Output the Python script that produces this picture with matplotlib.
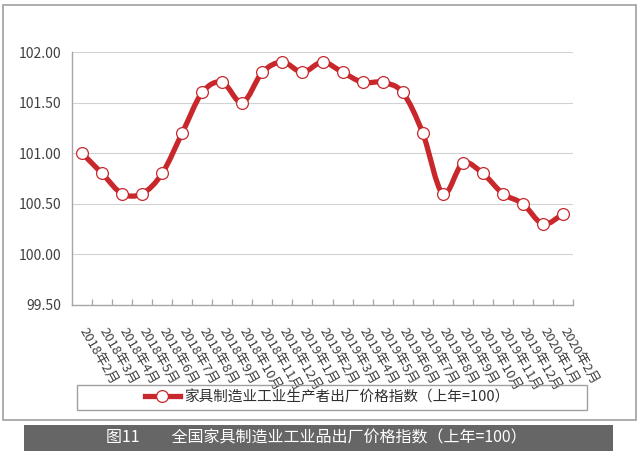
import matplotlib
matplotlib.use('Agg')
import matplotlib.pyplot as plt
from matplotlib.path import Path
from matplotlib.patches import PathPatch, Rectangle
from matplotlib.lines import Line2D
from matplotlib.ticker import FormatStrFormatter

plt.rcParams['font.family'] = ['Noto Sans CJK SC', 'DejaVu Sans']

# monthly labels, 2018-02 .. 2020-02
months = ['2018年2月', '2018年3月', '2018年4月', '2018年5月', '2018年6月',
          '2018年7月', '2018年8月', '2018年9月', '2018年10月', '2018年11月',
          '2018年12月', '2019年1月', '2019年2月', '2019年3月', '2019年4月',
          '2019年5月', '2019年6月', '2019年7月', '2019年8月', '2019年9月',
          '2019年10月', '2019年11月', '2019年12月', '2020年1月', '2020年2月']
index_vals = [101.0, 100.8, 100.6, 100.6, 100.8, 101.2, 101.6, 101.7, 101.5,
              101.8, 101.9, 101.8, 101.9, 101.8, 101.7, 101.7, 101.6, 101.2,
              100.6, 100.9, 100.8, 100.6, 100.5, 100.3, 100.4]
series_name = '家具制造业工业生产者出厂价格指数（上年=100）'
caption = '图11　　全国家具制造业工业品出厂价格指数（上年=100）'

RED = '#c8282c'
GRID = '#a6a6a6'
W, H = 640, 455

fig = plt.figure(figsize=(6.4, 4.55), dpi=100)
ax = fig.add_axes([72 / W, 1 - 305 / H, 501 / W, 253 / H])

x = list(range(len(index_vals)))

# smooth (Catmull-Rom style) curve through the points, as bezier segments
verts = [(x[0], index_vals[0])]
codes = [Path.MOVETO]
n = len(x)
for i in range(n - 1):
    p0 = (x[max(i - 1, 0)], index_vals[max(i - 1, 0)])
    p1 = (x[i], index_vals[i])
    p2 = (x[i + 1], index_vals[i + 1])
    p3 = (x[min(i + 2, n - 1)], index_vals[min(i + 2, n - 1)])
    c1 = (p1[0] + (p2[0] - p0[0]) / 6, p1[1] + (p2[1] - p0[1]) / 6)
    c2 = (p2[0] - (p3[0] - p1[0]) / 6, p2[1] - (p3[1] - p1[1]) / 6)
    verts += [c1, c2, p2]
    codes += [Path.CURVE4] * 3
ax.add_patch(PathPatch(Path(verts, codes), fill=False, edgecolor=RED,
                       lw=3.8, capstyle='round', joinstyle='round', zorder=3))
ax.plot(x, index_vals, linestyle='none', marker='o', markersize=8.5,
        markerfacecolor='white', markeredgecolor=RED, markeredgewidth=0.9,
        zorder=4, clip_on=False)

ax.set_xlim(-0.5, len(x) - 0.5)
ax.set_ylim(99.5, 102.0)
ax.set_yticks([99.5, 100.0, 100.5, 101.0, 101.5, 102.0])
ax.yaxis.set_major_formatter(FormatStrFormatter('%.2f'))
ax.tick_params(axis='y', length=0, pad=8, labelsize=10, labelcolor='#404040')
ax.grid(axis='y', color='#b0b0b0', linestyle=(0, (1, 0.8)), lw=0.8)
ax.set_axisbelow(True)

ax.set_xticks(x)
ax.set_xticklabels(months, rotation=-60, ha='left', va='center',
                   rotation_mode='anchor', fontsize=9.5, color='#404040')
ax.tick_params(axis='x', which='major', length=0, pad=17)
ax.set_xticks([i + 0.5 for i in range(len(x))], minor=True)
ax.tick_params(axis='x', which='minor', direction='in', length=4,
               color=GRID, width=0.9)

for s in ['top', 'right']:
    ax.spines[s].set_visible(False)
for s in ['left', 'bottom']:
    ax.spines[s].set_color(GRID)
    ax.spines[s].set_linewidth(1.0)

# outer frame
fig.patches.append(Rectangle((3 / W, 1 - 420 / H), 633 / W, 415 / H,
                             transform=fig.transFigure, fill=False,
                             edgecolor='#a0a0a0', lw=1.2))
# legend box
fig.patches.append(Rectangle((77 / W, 1 - 410 / H), 510 / W, 25 / H,
                             transform=fig.transFigure, fill=False,
                             edgecolor='#a0a0a0', lw=1.0))
handle = Line2D([], [], color=RED, lw=3.8, marker='o', markersize=8.5,
                markerfacecolor='white', markeredgecolor=RED, markeredgewidth=0.9)
fig.legend([handle], [series_name], loc='center', frameon=False,
           bbox_to_anchor=(327 / W, 1 - 397.5 / H), bbox_transform=fig.transFigure,
           fontsize=10.5, handlelength=2.4, handletextpad=0.3,
           labelcolor='#303030')

# caption bar
fig.patches.append(Rectangle((24 / W, 1 - 451 / H), 589 / W, 26 / H,
                             transform=fig.transFigure, facecolor='#666666',
                             edgecolor='none'))
fig.text(316 / W, 1 - 438 / H, caption, color='white', fontsize=11.5,
         ha='center', va='center')

fig.savefig('out.png', dpi=100)
